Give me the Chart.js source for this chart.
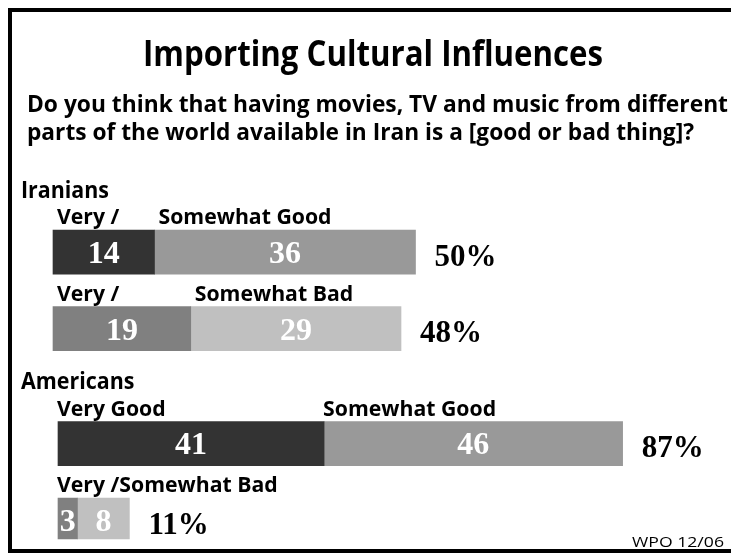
<!DOCTYPE html>
<html>
<head>
<meta charset="utf-8">
<script src="https://cdn.jsdelivr.net/npm/chart.js@4.4.1/dist/chart.umd.min.js"></script>
<style>
  html, body { margin: 0; padding: 0; background: #ffffff; }
  #wrap { position: relative; width: 731px; height: 553px; overflow: hidden; }
  canvas { display: block; }
</style>
</head>
<body>
<div id="wrap"><canvas id="c" width="731" height="553"></canvas></div>
<script>
// ---------- data ----------
const titleText = 'Importing Cultural Influences';
const questionLines = [
  'Do you think that having movies, TV and music from different',
  'parts of the world available in Iran is a [good or bad thing]?'
];
const sourceText = 'WPO 12/06';
const groups = ['Iranians', 'Americans'];
const rowKeys = ['Good', 'Bad'];
const iranVery = [14, 19];
const iranSomewhat = [36, 29];
const iranTotals = [50, 48];
const usVery = [41, 3];
const usSomewhat = [46, 8];
const usTotals = [87, 11];
const iranSegLabels = [['Very /', 'Somewhat Good'], ['Very /', 'Somewhat Bad']];
const usSegLabels = [['Very Good', 'Somewhat Good'], ['Very /Somewhat Bad', '']];
const veryColors = ['#333333', '#808080'];
const somewhatColors = ['#999999', '#c0c0c0'];

// ---------- category slots (header, label row, bar row, label row, bar row) ----------
const categories = [];
groups.forEach(g => {
  categories.push(g);
  rowKeys.forEach(r => { categories.push(g + ' ' + r + ' label'); categories.push(g + ' ' + r); });
});
const N = categories.length;
const perGroup = 1 + rowKeys.length * 2;
const headerIndex = g => g * perGroup;
const barIndex = (g, r) => g * perGroup + 2 + r * 2;
function series(g, vals) {
  const a = new Array(N).fill(null);
  vals.forEach((v, r) => { a[barIndex(g, r)] = v; });
  return a;
}
function colorSeries(g, cols) {
  const a = new Array(N).fill('rgba(0,0,0,0)');
  cols.forEach((c, r) => { a[barIndex(g, r)] = c; });
  return a;
}

// ---------- layout ----------
const W = 731;
const IR_ORIGIN = 53, IR_PPU = 7.25;
const US_ORIGIN = 58, US_PPU = 6.49;
const SANS = '"Open Sans", Lato, sans-serif';
const LABEL_FONT = 'bold 22px ' + SANS;
const GROUP_FONT = 'bold 24px ' + SANS;
const NUM_SIZE = 32;
const NUM_FONT = 'bold ' + NUM_SIZE + 'px "Liberation Serif", "DejaVu Serif", serif';
const TOT_SIZE = 31;
const TOT_FONT = 'bold ' + TOT_SIZE + 'px "Liberation Serif", "DejaVu Serif", serif';

const segLabelsByGroup = [iranSegLabels, usSegLabels];
const totalsByGroup = [iranTotals, usTotals];
const labelOffsetByGroup = [4, -1];

function fitText(ctx, text, x, y, width) {
  const w = ctx.measureText(text).width;
  ctx.save();
  ctx.translate(x, y);
  ctx.scale(width / w, 1);
  ctx.fillText(text, 0, 0);
  ctx.restore();
}
function squeezeText(ctx, text, x, y, sx) {
  ctx.save();
  ctx.translate(x, y);
  ctx.scale(sx, 1);
  ctx.fillText(text, 0, 0);
  ctx.restore();
}

const textPlugin = {
  id: 'texts',
  beforeDraw(chart) {
    const ctx = chart.ctx;
    ctx.save();
    ctx.fillStyle = '#ffffff';
    ctx.fillRect(0, 0, chart.width, chart.height);
    ctx.fillStyle = '#000000';
    ctx.fillRect(8, 8, 4, 545);
    ctx.fillRect(8, 8, 723, 4);
    ctx.fillRect(8, 549, 723, 4);
    ctx.restore();
  },
  afterDatasetsDraw(chart) {
    const ctx = chart.ctx;
    const yScale = chart.scales.y;
    ctx.save();
    ctx.textBaseline = 'alphabetic';
    ctx.fillStyle = '#000000';
    ctx.textAlign = 'left';
    // title
    ctx.font = 'bold 35px ' + SANS;
    fitText(ctx, titleText, 143, 66, 460);
    // question
    ctx.font = 'bold 23px ' + SANS;
    fitText(ctx, questionLines[0], 27, 112, 701);
    fitText(ctx, questionLines[1], 27, 140, 667);
    // source
    ctx.font = '15px ' + SANS;
    fitText(ctx, sourceText, 632, 547, 92);

    // horizontal squeeze so the segment labels match the reference width
    ctx.font = LABEL_FONT;
    const labelSx = 173 / ctx.measureText('Somewhat Good').width;
    ctx.font = GROUP_FONT;
    const groupSx = 88 / ctx.measureText(groups[0]).width;

    groups.forEach((g, gi) => {
      ctx.fillStyle = '#000000';
      ctx.textAlign = 'left';
      ctx.font = GROUP_FONT;
      squeezeText(ctx, g, 21, yScale.getPixelForValue(headerIndex(gi)) + 22, groupSx);
      rowKeys.forEach((rk, r) => {
        const idx = barIndex(gi, r);
        const metas = [chart.getDatasetMeta(gi * 2), chart.getDatasetMeta(gi * 2 + 1)];
        const els = metas.map(m => m.data[idx]);
        const vals = [chart.data.datasets[gi * 2].data[idx], chart.data.datasets[gi * 2 + 1].data[idx]];
        const top = els[0].y - els[0].height / 2;
        // segment labels
        ctx.fillStyle = '#000000';
        ctx.font = LABEL_FONT;
        ctx.textAlign = 'left';
        segLabelsByGroup[gi][r].forEach((t, k) => {
          if (t) squeezeText(ctx, t, els[k].base + labelOffsetByGroup[gi], top - 6, labelSx);
        });
        // values
        ctx.font = NUM_FONT;
        ctx.textAlign = 'center';
        ctx.fillStyle = '#ffffff';
        els.forEach((el, k) => {
          ctx.fillText(String(vals[k]), (el.x + el.base) / 2, el.y + NUM_SIZE * 0.338);
        });
        // total
        ctx.font = TOT_FONT;
        ctx.textAlign = 'left';
        ctx.fillStyle = '#000000';
        ctx.fillText(totalsByGroup[gi][r] + '%', els[1].x + 19, els[1].y + TOT_SIZE * 0.338 + 3);
      });
    });
    ctx.restore();
  }
};

const datasets = [];
groups.forEach((g, gi) => {
  const axis = gi === 0 ? 'xI' : 'xA';
  const veryVals = gi === 0 ? iranVery : usVery;
  const someVals = gi === 0 ? iranSomewhat : usSomewhat;
  datasets.push({ label: g + ' very', data: series(gi, veryVals), xAxisID: axis, stack: 'all',
    backgroundColor: colorSeries(gi, veryColors), borderWidth: 0, barThickness: 44 });
  datasets.push({ label: g + ' somewhat', data: series(gi, someVals), xAxisID: axis, stack: 'all',
    backgroundColor: colorSeries(gi, somewhatColors), borderWidth: 0, barThickness: 44 });
});

new Chart(document.getElementById('c'), {
  type: 'bar',
  data: { labels: categories, datasets },
  options: {
    indexAxis: 'y',
    responsive: false,
    animation: false,
    events: [],
    layout: { padding: { top: 156.35, bottom: 13.65, left: 0, right: 0 } },
    plugins: { legend: { display: false }, tooltip: { enabled: false }, title: { display: false } },
    scales: {
      y: { type: 'category', display: false, stacked: true, offset: true, grid: { display: false } },
      xI: { type: 'linear', axis: 'x', display: false, stacked: true,
            min: -IR_ORIGIN / IR_PPU, max: (W - IR_ORIGIN) / IR_PPU },
      xA: { type: 'linear', axis: 'x', display: false, stacked: true,
            min: -US_ORIGIN / US_PPU, max: (W - US_ORIGIN) / US_PPU }
    }
  },
  plugins: [textPlugin]
});
</script>
</body>
</html>
